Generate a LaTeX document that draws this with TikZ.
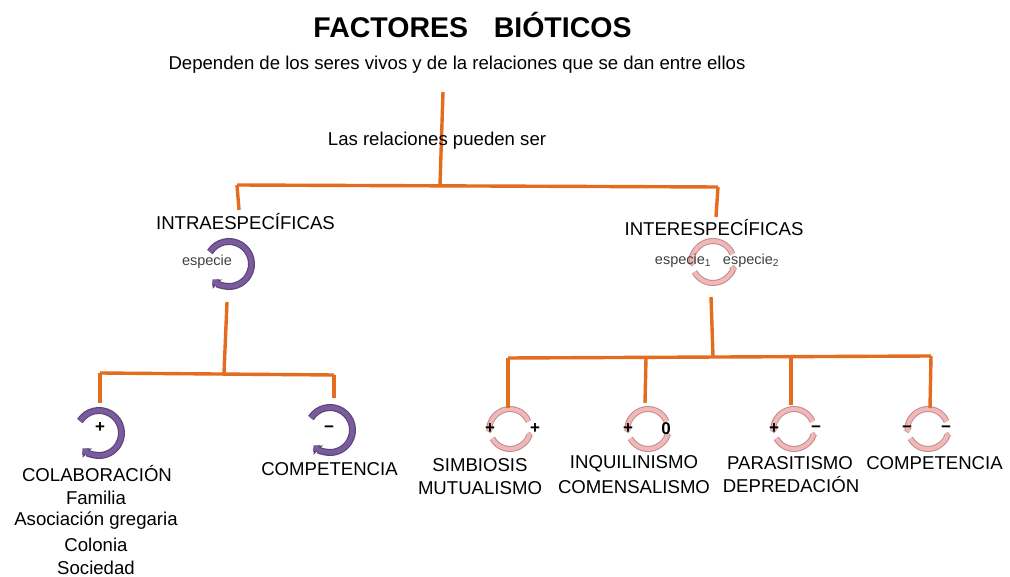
\documentclass[tikz,border=0pt]{standalone}
\usepackage{fontspec}
\setmainfont{Liberation Sans}
\usetikzlibrary{arrows.meta}
\definecolor{linkorange}{HTML}{E36C1F}
\definecolor{purplefill}{HTML}{7A5C9E}
\definecolor{purpleedge}{HTML}{5A4478}
\definecolor{pinkfill}{HTML}{F0B8B8}
\definecolor{pinkedge}{HTML}{C08A8A}
\tikzset{
  x=1pt,y=-1pt,
  link/.style={draw=linkorange,line width=3.4pt},
  lbl/.style={inner sep=0pt,font=\fontsize{18.6}{22}\selectfont,text=black},
  title/.style={inner sep=0pt,font=\fontsize{28.5}{32}\selectfont\bfseries},
  small/.style={inner sep=0pt,font=\fontsize{14.5}{16}\selectfont,text=black!75},
  sign/.style={inner sep=0pt,font=\fontsize{17}{18}\selectfont\bfseries},
  anchorpt/.style={inner sep=0pt,minimum size=0pt},
}
% purple ring: name, centre x, centre y
\newcommand{\purplering}[3]{%
  \node[anchorpt] (#1) at (#2,#3) {};
  \draw[purpleedge,line width=7pt,-{Triangle[length=6pt,width=13pt]}] (#1) ++(148:22.5pt) arc[start angle=148,end angle=-135,radius=22.5pt];
  \draw[purplefill,line width=4.6pt,-{Triangle[length=4.6pt,width=10pt]}] (#1) ++(148:22.5pt) arc[start angle=148,end angle=-137,radius=22.5pt];
}
% pink ring: name, centre x, centre y, radius
\newcommand{\pinkring}[4]{%
  \node[anchorpt] (#1) at (#2,#3) {};
  \foreach \sa/\ea in {25/188,188.1/188.2}{}%
  \draw[pinkedge,line width=6pt,-{Triangle[length=4pt,width=8pt]}] (#1) ++(22:#4) arc[start angle=22,end angle=192,radius=#4];
  \draw[pinkfill,line width=4pt,-{Triangle[length=3pt,width=6pt]}] (#1) ++(22:#4) arc[start angle=22,end angle=190,radius=#4];
  \draw[pinkedge,line width=6pt,-{Triangle[length=4pt,width=8pt]}] (#1) ++(208:#4) arc[start angle=208,end angle=352,radius=#4];
  \draw[pinkfill,line width=4pt,-{Triangle[length=3pt,width=6pt]}] (#1) ++(208:#4) arc[start angle=208,end angle=350,radius=#4];
}
\begin{document}
\begin{tikzpicture}
\useasboundingbox (0,0) rectangle (1010,577);
% rings
\purplering{rintra}{229}{264}
\purplering{rcolab}{99}{433}
\purplering{rcomp}{330}{430}
\pinkring{rinter}{713}{262}{21pt}
\pinkring{rsim}{510}{429}{20pt}
\pinkring{rinq}{648}{429}{20pt}
\pinkring{rpar}{794}{429}{20pt}
\pinkring{rcpt}{928}{429}{20pt}
% connector coordinates
\coordinate (top) at (443,92);
\coordinate (mid) at (440,185);
\coordinate (busL) at (237,185);
\coordinate (busR) at (718,187);
\coordinate (intraTop) at (239,210);
\coordinate (interTop) at (716,217);
\coordinate (intraOut) at (227,302);
\coordinate (intraJ) at (224,373);
\coordinate (colabJ) at (100,373);
\coordinate (compJ) at (334,375);
\coordinate (colabEnd) at (100,403);
\coordinate (compEnd) at (334,398);
\coordinate (interOut) at (711,297);
\coordinate (interJ) at (713,356);
\coordinate (simJ) at (508,358);
\coordinate (inqJ) at (646,358);
\coordinate (parJ) at (791,357);
\coordinate (cptJ) at (931,356);
\coordinate (simEnd) at (508,408);
\coordinate (inqEnd) at (645,403);
\coordinate (parEnd) at (791,405);
\coordinate (cptEnd) at (930,408);
% connectors
\draw[link] (top) -- (mid);
\draw[link] (busL) -- (busR);
\draw[link] (busL) -- (intraTop);
\draw[link] (busR) -- (interTop);
\draw[link] (intraOut) -- (intraJ);
\draw[link] (colabJ) -- (compJ);
\draw[link] (colabJ) -- (colabEnd);
\draw[link] (compJ) -- (compEnd);
\draw[link] (interOut) -- (interJ);
\draw[link] (simJ) -- (cptJ);
\draw[link] (simJ) -- (simEnd);
\draw[link] (inqJ) -- (inqEnd);
\draw[link] (parJ) -- (parEnd);
\draw[link] (cptJ) -- (cptEnd);
% texts
\node[title] (ttl) at (472.5,25) {FACTORES\hspace{0.9em}BIÓTICOS};
\node[lbl] (sub) at (457,65) {Dependen de los seres vivos y de la relaciones que se dan entre ellos};
\node[lbl,fill=none] (las) at (437,141) {Las relaciones pueden ser};
\node[lbl] (intra) at (245.5,222) {INTRAESPECÍFICAS};
\node[lbl] (inter) at (714,228) {INTERESPECÍFICAS};
\node[small] (esp) at (207,262) {especie};
\node[small] (esp1) at (683,261) {especie\textsubscript{1}};
\node[small] (esp2) at (751,261) {especie\textsubscript{2}};
\node[lbl] (colab) at (97,474) {COLABORACIÓN};
\node[lbl] (fam) at (96,498) {Familia};
\node[lbl] (aso) at (96,521) {Asociación gregaria};
\node[lbl] (col) at (96,545) {Colonia};
\node[lbl] (soc) at (96,568) {Sociedad};
\node[lbl] (comp1) at (329.5,469) {COMPETENCIA};
\node[lbl] (simb) at (480,465) {SIMBIOSIS};
\node[lbl] (mut) at (480,488) {MUTUALISMO};
\node[lbl] (inq) at (634,464) {INQUILINISMO};
\node[lbl] (come) at (634,487) {COMENSALISMO};
\node[lbl] (par) at (790,463) {PARASITISMO};
\node[lbl] (dep) at (791,485) {DEPREDACIÓN};
\node[lbl] (comp2) at (934.5,463) {COMPETENCIA};
% signs
\node[sign] (s1) at (100,428) {+};
\node[sign] (s2) at (329,429) {−};
\node[sign] (s3) at (490,429) {+};
\node[sign] (s4) at (535,429) {+};
\node[sign] (s5) at (628,429) {+};
\node[sign] (s6) at (666,429) {0};
\node[sign] (s7) at (774,429) {+};
\node[sign] (s8) at (816,429) {−};
\node[sign] (s9) at (907,429) {−};
\node[sign] (s10) at (946,429) {−};
\end{tikzpicture}
\end{document}
